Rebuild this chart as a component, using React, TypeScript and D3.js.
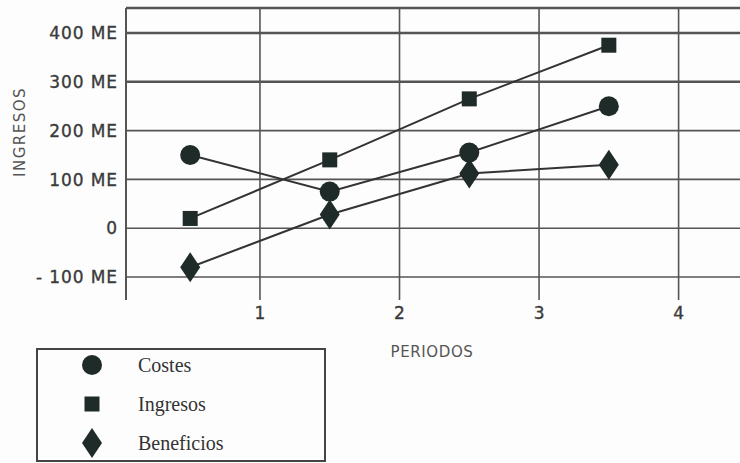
import React from "react";
import * as d3 from "d3";

// Periods (x) and series values in ME
const periods = [0.5, 1.5, 2.5, 3.5];
const costes = [150, 75, 155, 250];
const ingresos = [20, 140, 265, 375];
const beneficios = [-80, 28, 112, 130];

const yTicks = [400, 300, 200, 100, 0, -100];
const yTickLabels = ["400 ME", "300 ME", "200 ME", "100 ME", "0", "- 100 ME"];
const xTicks = [1, 2, 3, 4];

const seriesNames = ["Costes", "Ingresos", "Beneficios"];
const seriesShapes = ["circle", "square", "diamond"];

const W = 740;
const H = 463;
const plot = { left: 126, top: 8, right: 740, bottom: 300 };

const INK = "#1e2b29";
const LINE = "#333";
const GRID = "#555";
const TEXT = "#3a3a3a";

function Marker({ shape, cx, cy }: { shape: string; cx: number; cy: number }) {
  if (shape === "circle") return <circle cx={cx} cy={cy} r={10} fill={INK} />;
  if (shape === "square")
    return <rect x={cx - 7.5} y={cy - 7.5} width={15} height={15} fill={INK} />;
  const p = d3.path();
  p.moveTo(cx, cy - 15);
  p.lineTo(cx + 10, cy);
  p.lineTo(cx, cy + 15);
  p.lineTo(cx - 10, cy);
  p.closePath();
  return <path d={p.toString()} fill={INK} />;
}

export default function App() {
  const x = d3.scaleLinear().domain([0.04, 4.44]).range([plot.left, plot.right]);
  const y = d3.scaleLinear().domain([-100, 400]).range([277, 33]);
  const line = d3
    .line<[number, number]>()
    .x((d) => x(d[0]))
    .y((d) => y(d[1]));

  const series = [costes, ingresos, beneficios];

  return (
    <div style={{ position: "fixed", left: 0, top: 0 }}>
      <svg width={W} height={H} style={{ display: "block", background: "#fdfdfd" }}>
        {/* vertical grid */}
        {xTicks.map((t) => (
          <line
            key={"vx" + t}
            x1={x(t)}
            x2={x(t)}
            y1={plot.top}
            y2={plot.bottom}
            stroke={GRID}
            strokeWidth={1.6}
          />
        ))}
        {/* horizontal grid */}
        {yTicks.map((t) => (
          <line
            key={"hy" + t}
            x1={plot.left}
            x2={plot.right}
            y1={y(t)}
            y2={y(t)}
            stroke={GRID}
            strokeWidth={t >= 300 ? 2.4 : 1.6}
          />
        ))}
        {/* frame: top border and left axis */}
        <line x1={plot.left} x2={plot.right} y1={plot.top} y2={plot.top} stroke={GRID} strokeWidth={2.6} />
        <line x1={plot.left} x2={plot.left} y1={plot.top} y2={plot.bottom} stroke={GRID} strokeWidth={2} />

        {/* y tick labels */}
        {yTicks.map((t, i) => (
          <text
            key={"yl" + t}
            x={118}
            y={y(t)}
            dy="0.36em"
            textAnchor="end"
            fontFamily="DejaVu Sans, Verdana, sans-serif"
            fontSize={17}
            letterSpacing={0.9}
            fill={TEXT}
            stroke={TEXT}
            strokeWidth={0.35}
          >
            {yTickLabels[i]}
          </text>
        ))}
        {/* x tick labels */}
        {xTicks.map((t) => (
          <text
            key={"xl" + t}
            x={x(t)}
            y={313}
            dy="0.36em"
            textAnchor="middle"
            fontFamily="DejaVu Sans, Verdana, sans-serif"
            fontSize={17}
            fill={TEXT}
            stroke={TEXT}
            strokeWidth={0.35}
          >
            {t}
          </text>
        ))}
        {/* axis titles */}
        <text
          transform="translate(20,132) rotate(-90)"
          textAnchor="middle"
          dy="0.36em"
          fontFamily="DejaVu Sans, Verdana, sans-serif"
          fontSize={15}
          letterSpacing={1.5}
          fill="#555"
        >
          INGRESOS
        </text>
        <text
          x={432}
          y={352}
          dy="0.36em"
          textAnchor="middle"
          fontFamily="DejaVu Sans, Verdana, sans-serif"
          fontSize={15}
          letterSpacing={0.6}
          fill="#555"
        >
          PERIODOS
        </text>

        {/* series lines */}
        {series.map((vals, si) => (
          <path
            key={"ln" + si}
            d={line(periods.map((p, i) => [p, vals[i]]) as [number, number][]) || ""}
            fill="none"
            stroke={LINE}
            strokeWidth={2}
          />
        ))}
        {/* series markers */}
        {series.map((vals, si) =>
          vals.map((v, i) => (
            <Marker key={"m" + si + "-" + i} shape={seriesShapes[si]} cx={x(periods[i])} cy={y(v)} />
          ))
        )}

        {/* legend */}
        <rect x={37} y={349} width={288} height={112} fill="none" stroke="#444" strokeWidth={2} />
        {seriesNames.map((name, i) => {
          const cy = 365 + i * 39;
          return (
            <g key={"lg" + name}>
              <Marker shape={seriesShapes[i]} cx={92} cy={cy} />
              <text
                x={138}
                y={cy}
                dy="0.35em"
                fontFamily="Liberation Serif, Times New Roman, serif"
                fontSize={20}
                fill="#333"
              >
                {name}
              </text>
            </g>
          );
        })}
      </svg>
    </div>
  );
}
